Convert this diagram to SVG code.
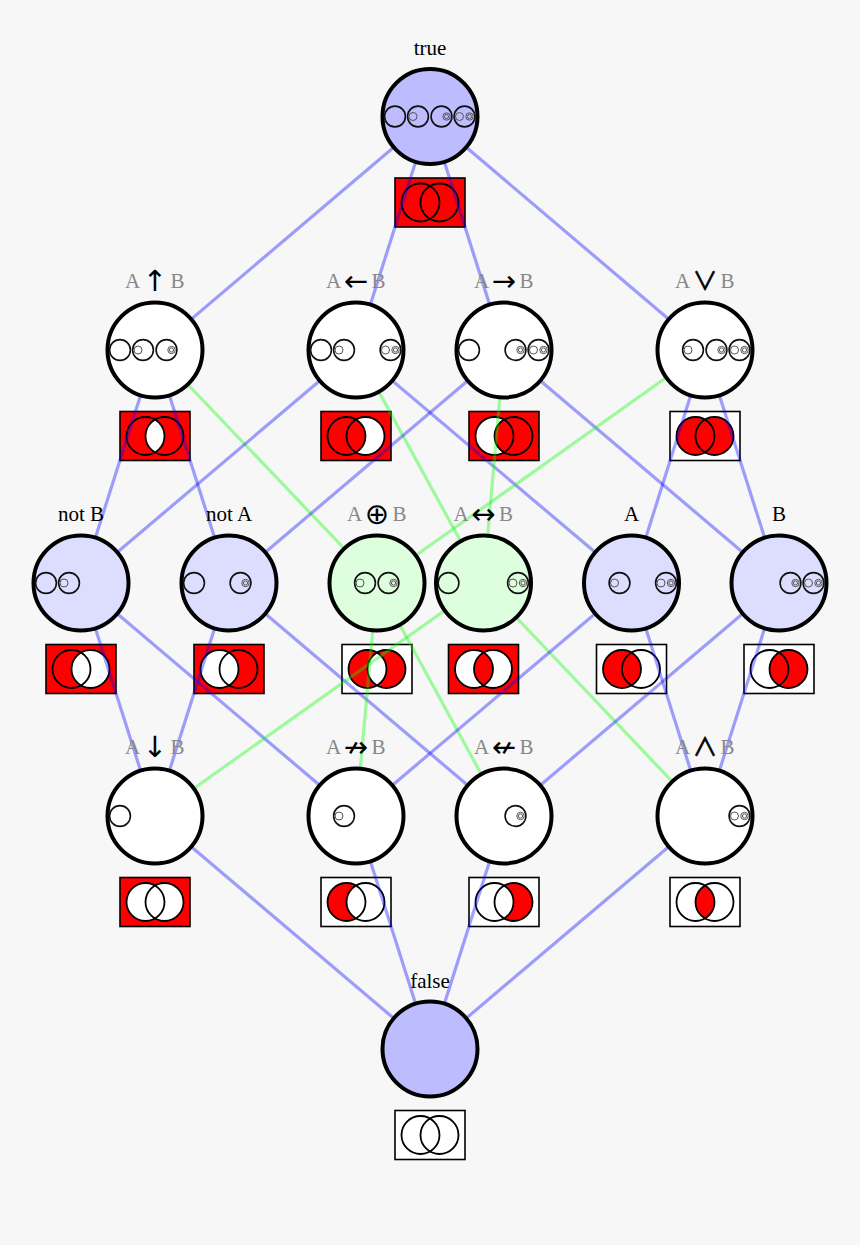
<svg xmlns="http://www.w3.org/2000/svg" xmlns:xlink="http://www.w3.org/1999/xlink" width="860" height="1245" viewBox="0 0 860 1245">
<style>
.vb{stroke:#000;stroke-width:1.6}
.red{fill:#f00}
.wht{fill:#fff}
.vo{fill:none;stroke:#000;stroke-width:1.8}
.e{stroke:#00f;stroke-opacity:0.37;stroke-width:3.2;fill:none}
.g{stroke:#0f0;stroke-opacity:0.37;stroke-width:3.2;fill:none}
.nc{stroke:#000;stroke-width:4}
.go{fill:none;stroke:#111;stroke-width:1.6}
.gi{fill:none;stroke:#555;stroke-width:1}
.lab{font-family:"Liberation Serif","Times New Roman",serif;font-size:21px;text-anchor:middle;fill:#000}
.gr{fill:#888}
.op{font-family:"DejaVu Sans",sans-serif;font-size:29px;text-anchor:middle;fill:#000}
.wv{font-family:"Noto Sans CJK JP","DejaVu Sans",sans-serif;font-size:25px;text-anchor:middle;fill:#000;stroke:#000;stroke-width:0.6}
</style>
<defs>
<circle id="cl" cx="-9.5" cy="0" r="19"/>
<circle id="cr" cx="9.5" cy="0" r="19"/>
<path id="lens" d="M0,-16.45A19,19 0 0 1 0,16.45A19,19 0 0 1 0,-16.45Z"/>
<path id="ca" d="M0,-16.45A19,19 0 1 0 0,16.45A19,19 0 0 1 0,-16.45Z"/>
<path id="cb" d="M0,-16.45A19,19 0 1 1 0,16.45A19,19 0 0 0 0,-16.45Z"/>
<rect id="box" x="-35" y="-24.5" width="70" height="49"/>
<g id="g0"><circle r="10.4" class="go"/></g>
<g id="g1"><circle r="10.4" class="go"/><circle cx="-5" r="4" class="gi"/></g>
<g id="g2"><circle r="10.4" class="go"/><circle cx="5" r="3.7" class="gi"/><circle cx="5" r="2.1" class="gi"/></g>
<g id="g3"><circle r="10.4" class="go"/><circle cx="-5" r="4" class="gi"/><circle cx="5" r="3.7" class="gi"/><circle cx="5" r="2.1" class="gi"/></g>
</defs>
<rect width="860" height="1245" fill="#f7f7f7"/>

<!-- Venn boxes -->
<g id="venns">
<g id="venn-true" transform="translate(430,202.5)"><use href="#box" class="vb red"/><use href="#ca" class="red"/><use href="#cb" class="red"/><use href="#lens" class="red"/><use href="#cl" class="vo"/><use href="#cr" class="vo"/></g>
<g id="venn-nand" transform="translate(155,436)"><use href="#box" class="vb red"/><use href="#ca" class="red"/><use href="#cb" class="red"/><use href="#lens" class="wht"/><use href="#cl" class="vo"/><use href="#cr" class="vo"/></g>
<g id="venn-conv" transform="translate(356,436)"><use href="#box" class="vb red"/><use href="#ca" class="red"/><use href="#cb" class="wht"/><use href="#lens" class="red"/><use href="#cl" class="vo"/><use href="#cr" class="vo"/></g>
<g id="venn-impl" transform="translate(504,436)"><use href="#box" class="vb red"/><use href="#ca" class="wht"/><use href="#cb" class="red"/><use href="#lens" class="red"/><use href="#cl" class="vo"/><use href="#cr" class="vo"/></g>
<g id="venn-or" transform="translate(705,436)"><use href="#box" class="vb wht"/><use href="#ca" class="red"/><use href="#cb" class="red"/><use href="#lens" class="red"/><use href="#cl" class="vo"/><use href="#cr" class="vo"/></g>
<g id="venn-notB" transform="translate(81,669)"><use href="#box" class="vb red"/><use href="#ca" class="red"/><use href="#cb" class="wht"/><use href="#lens" class="wht"/><use href="#cl" class="vo"/><use href="#cr" class="vo"/></g>
<g id="venn-notA" transform="translate(229,669)"><use href="#box" class="vb red"/><use href="#ca" class="wht"/><use href="#cb" class="red"/><use href="#lens" class="wht"/><use href="#cl" class="vo"/><use href="#cr" class="vo"/></g>
<g id="venn-xor" transform="translate(377,669)"><use href="#box" class="vb wht"/><use href="#ca" class="red"/><use href="#cb" class="red"/><use href="#lens" class="wht"/><use href="#cl" class="vo"/><use href="#cr" class="vo"/></g>
<g id="venn-xnor" transform="translate(483.5,669)"><use href="#box" class="vb red"/><use href="#ca" class="wht"/><use href="#cb" class="wht"/><use href="#lens" class="red"/><use href="#cl" class="vo"/><use href="#cr" class="vo"/></g>
<g id="venn-A" transform="translate(631.5,669)"><use href="#box" class="vb wht"/><use href="#ca" class="red"/><use href="#cb" class="wht"/><use href="#lens" class="red"/><use href="#cl" class="vo"/><use href="#cr" class="vo"/></g>
<g id="venn-B" transform="translate(779,669)"><use href="#box" class="vb wht"/><use href="#ca" class="wht"/><use href="#cb" class="red"/><use href="#lens" class="red"/><use href="#cl" class="vo"/><use href="#cr" class="vo"/></g>
<g id="venn-nor" transform="translate(155,902)"><use href="#box" class="vb red"/><use href="#ca" class="wht"/><use href="#cb" class="wht"/><use href="#lens" class="wht"/><use href="#cl" class="vo"/><use href="#cr" class="vo"/></g>
<g id="venn-nimp" transform="translate(356,902)"><use href="#box" class="vb wht"/><use href="#ca" class="red"/><use href="#cb" class="wht"/><use href="#lens" class="wht"/><use href="#cl" class="vo"/><use href="#cr" class="vo"/></g>
<g id="venn-ncon" transform="translate(504,902)"><use href="#box" class="vb wht"/><use href="#ca" class="wht"/><use href="#cb" class="red"/><use href="#lens" class="wht"/><use href="#cl" class="vo"/><use href="#cr" class="vo"/></g>
<g id="venn-and" transform="translate(705,902)"><use href="#box" class="vb wht"/><use href="#ca" class="wht"/><use href="#cb" class="wht"/><use href="#lens" class="red"/><use href="#cl" class="vo"/><use href="#cr" class="vo"/></g>
<g id="venn-false" transform="translate(430,1135)"><use href="#box" class="vb wht"/><use href="#cl" class="vo"/><use href="#cr" class="vo"/></g>
</g>

<!-- Connectors -->
<g id="connectors">
<line class="e" x1="430" y1="116.5" x2="155" y2="350"/>
<line class="e" x1="430" y1="116.5" x2="356" y2="350"/>
<line class="e" x1="430" y1="116.5" x2="504" y2="350"/>
<line class="e" x1="430" y1="116.5" x2="705" y2="350"/>
<line class="e" x1="155" y1="350" x2="81" y2="583"/>
<line class="e" x1="155" y1="350" x2="229" y2="583"/>
<line class="g" x1="155" y1="350" x2="377" y2="583"/>
<line class="e" x1="356" y1="350" x2="81" y2="583"/>
<line class="g" x1="356" y1="350" x2="483.5" y2="583"/>
<line class="e" x1="356" y1="350" x2="631.5" y2="583"/>
<line class="e" x1="504" y1="350" x2="229" y2="583"/>
<line class="g" x1="504" y1="350" x2="483.5" y2="583"/>
<line class="e" x1="504" y1="350" x2="779" y2="583"/>
<line class="g" x1="705" y1="350" x2="377" y2="583"/>
<line class="e" x1="705" y1="350" x2="631.5" y2="583"/>
<line class="e" x1="705" y1="350" x2="779" y2="583"/>
<line class="e" x1="81" y1="583" x2="155" y2="816"/>
<line class="e" x1="81" y1="583" x2="356" y2="816"/>
<line class="e" x1="229" y1="583" x2="155" y2="816"/>
<line class="e" x1="229" y1="583" x2="504" y2="816"/>
<line class="g" x1="377" y1="583" x2="356" y2="816"/>
<line class="g" x1="377" y1="583" x2="504" y2="816"/>
<line class="g" x1="483.5" y1="583" x2="155" y2="816"/>
<line class="g" x1="483.5" y1="583" x2="705" y2="816"/>
<line class="e" x1="631.5" y1="583" x2="356" y2="816"/>
<line class="e" x1="631.5" y1="583" x2="705" y2="816"/>
<line class="e" x1="779" y1="583" x2="504" y2="816"/>
<line class="e" x1="779" y1="583" x2="705" y2="816"/>
<line class="e" x1="155" y1="816" x2="430" y2="1049"/>
<line class="e" x1="356" y1="816" x2="430" y2="1049"/>
<line class="e" x1="504" y1="816" x2="430" y2="1049"/>
<line class="e" x1="705" y1="816" x2="430" y2="1049"/>
</g>

<!-- Nodes -->
<g id="node-true" transform="translate(430,116.5)">
<circle r="47.5" class="nc" fill="#bcbcff"/>
<use href="#g0" x="-35"/><use href="#g1" x="-12"/><use href="#g2" x="11.5"/><use href="#g3" x="34.5"/>
<text class="lab" y="-61.5">true</text>
</g>
<g id="node-nand" transform="translate(155,350)">
<circle r="47.5" class="nc" fill="#fff"/>
<use href="#g0" x="-35"/><use href="#g1" x="-12"/><use href="#g2" x="11.5"/>
<text class="lab gr" x="-22.5" y="-62">A</text><text class="op" y="-59">↑</text><text class="lab gr" x="22.5" y="-62">B</text>
</g>
<g id="node-conv" transform="translate(356,350)">
<circle r="47.5" class="nc" fill="#fff"/>
<use href="#g0" x="-35"/><use href="#g1" x="-12"/><use href="#g3" x="34.5"/>
<text class="lab gr" x="-22.5" y="-62">A</text><text class="op" y="-59">←</text><text class="lab gr" x="22.5" y="-62">B</text>
</g>
<g id="node-impl" transform="translate(504,350)">
<circle r="47.5" class="nc" fill="#fff"/>
<use href="#g0" x="-35"/><use href="#g2" x="11.5"/><use href="#g3" x="34.5"/>
<text class="lab gr" x="-22.5" y="-62">A</text><text class="op" y="-59">→</text><text class="lab gr" x="22.5" y="-62">B</text>
</g>
<g id="node-or" transform="translate(705,350)">
<circle r="47.5" class="nc" fill="#fff"/>
<use href="#g1" x="-12"/><use href="#g2" x="11.5"/><use href="#g3" x="34.5"/>
<text class="lab gr" x="-22.5" y="-62">A</text><text class="wv" y="-60">∨</text><text class="lab gr" x="22.5" y="-62">B</text>
</g>
<g id="node-notB" transform="translate(81,583)">
<circle r="47.5" class="nc" fill="#ddddff"/>
<use href="#g0" x="-35"/><use href="#g1" x="-12"/>
<text class="lab" y="-62">not B</text>
</g>
<g id="node-notA" transform="translate(229,583)">
<circle r="47.5" class="nc" fill="#ddddff"/>
<use href="#g0" x="-35"/><use href="#g2" x="11.5"/>
<text class="lab" y="-62">not A</text>
</g>
<g id="node-xor" transform="translate(377,583)">
<circle r="47.5" class="nc" fill="#ddffdd"/>
<use href="#g1" x="-12"/><use href="#g2" x="11.5"/>
<text class="lab gr" x="-22.5" y="-62">A</text><text class="op" y="-59">⊕</text><text class="lab gr" x="22.5" y="-62">B</text>
</g>
<g id="node-xnor" transform="translate(483.5,583)">
<circle r="47.5" class="nc" fill="#ddffdd"/>
<use href="#g0" x="-35"/><use href="#g3" x="34.5"/>
<text class="lab gr" x="-22.5" y="-62">A</text><text class="op" y="-59">↔</text><text class="lab gr" x="22.5" y="-62">B</text>
</g>
<g id="node-A" transform="translate(631.5,583)">
<circle r="47.5" class="nc" fill="#ddddff"/>
<use href="#g1" x="-12"/><use href="#g3" x="34.5"/>
<text class="lab" y="-62">A</text>
</g>
<g id="node-B" transform="translate(779,583)">
<circle r="47.5" class="nc" fill="#ddddff"/>
<use href="#g2" x="11.5"/><use href="#g3" x="34.5"/>
<text class="lab" y="-62">B</text>
</g>
<g id="node-nor" transform="translate(155,816)">
<circle r="47.5" class="nc" fill="#fff"/>
<use href="#g0" x="-35"/>
<text class="lab gr" x="-22.5" y="-62">A</text><text class="op" y="-59">↓</text><text class="lab gr" x="22.5" y="-62">B</text>
</g>
<g id="node-nimp" transform="translate(356,816)">
<circle r="47.5" class="nc" fill="#fff"/>
<use href="#g1" x="-12"/>
<text class="lab gr" x="-22.5" y="-62">A</text><text class="op" y="-59">↛</text><text class="lab gr" x="22.5" y="-62">B</text>
</g>
<g id="node-ncon" transform="translate(504,816)">
<circle r="47.5" class="nc" fill="#fff"/>
<use href="#g2" x="11.5"/>
<text class="lab gr" x="-22.5" y="-62">A</text><text class="op" y="-59">↚</text><text class="lab gr" x="22.5" y="-62">B</text>
</g>
<g id="node-and" transform="translate(705,816)">
<circle r="47.5" class="nc" fill="#fff"/>
<use href="#g3" x="34.5"/>
<text class="lab gr" x="-22.5" y="-62">A</text><text class="wv" y="-60">∧</text><text class="lab gr" x="22.5" y="-62">B</text>
</g>
<g id="node-false" transform="translate(430,1049)">
<circle r="47.5" class="nc" fill="#bcbcff"/>
<text class="lab" y="-61.5">false</text>
</g>
</svg>
